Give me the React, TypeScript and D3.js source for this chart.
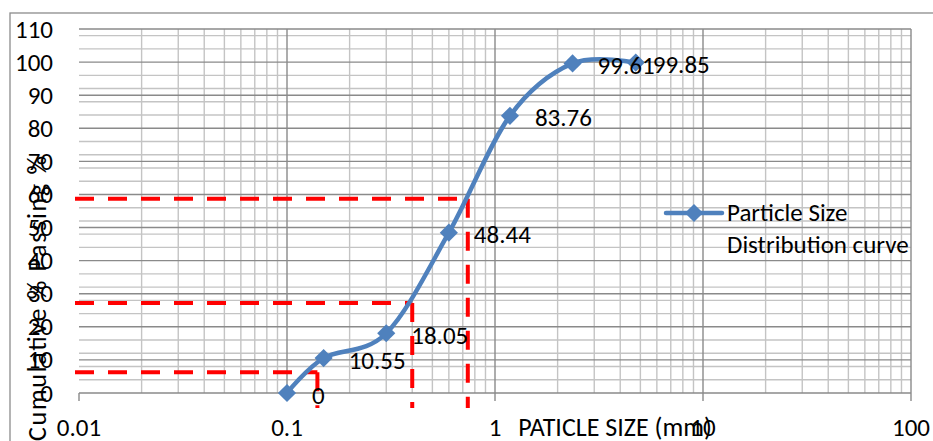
import React from 'react';
import * as d3 from 'd3';

const WIDTH = 933;
const HEIGHT = 441;
const PLOT = { left: 79, right: 911, top: 29, bottom: 393 };
const FONT = 'Carlito, Calibri, Lato, sans-serif';
const FS = 25;
const BLUE = '#4F81BD';

// sieve sizes (mm) and cumulative % passing
const sizes = [0.1, 0.15, 0.3, 0.6, 1.18, 2.36, 4.75];
const passing = [0, 10.55, 18.05, 48.44, 83.76, 99.61, 99.85];
const passingLabels = ['0', '10.55', '18.05', '48.44', '83.76', '99.61', '99.85'];

// red dashed reading lines (D10, D30, D60 style)
const guideSizes = [0.14, 0.4, 0.74];
const guidePassing = [6.3, 27.2, 58.7];

const xTicks = [0.01, 0.1, 1, 10, 100];
const xTickLabels = ['0.01', '0.1', '1', '10', '100'];
const yTicks = [0, 10, 20, 30, 40, 50, 60, 70, 80, 90, 100, 110];

export default function App() {
  const x = d3.scaleLog().domain([0.01, 100]).range([PLOT.left, PLOT.right]);
  const y = d3.scaleLinear().domain([0, 110]).range([PLOT.bottom, PLOT.top]);

  // minor log grid: 2..9 in each decade
  const xMinor: number[] = [];
  for (let e = -2; e < 2; e++) {
    for (let m = 2; m <= 9; m++) xMinor.push(m * Math.pow(10, e));
  }
  const yMinor = d3.range(0, 111, 4).filter((v) => v % 10 !== 0);

  const pts: [number, number][] = sizes.map((s, i) => [x(s), y(passing[i])]);
  const line = d3.line().curve(d3.curveCatmullRom.alpha(0))(pts) || '';
  const diamond = d3.symbol(d3.symbolSquare, 165)() || '';

  return (
    <svg
      width={WIDTH}
      height={HEIGHT}
      style={{ position: 'absolute', left: 0, top: 0, background: '#fff' }}
      fontFamily={FONT}
    >
      <rect x={10} y={13} width={WIDTH + 20} height={HEIGHT + 20} fill="#fff" stroke="#8c8c8c" strokeWidth={1.3} />

      {/* minor grid */}
      {yMinor.map((v) => (
        <line key={'ym' + v} x1={PLOT.left} x2={PLOT.right} y1={y(v)} y2={y(v)} stroke="#c4c4c4" strokeWidth={1.4} />
      ))}
      {xMinor.map((v) => (
        <line key={'xm' + v} x1={x(v)} x2={x(v)} y1={PLOT.top} y2={PLOT.bottom} stroke="#c4c4c4" strokeWidth={1.4} />
      ))}
      {/* major grid */}
      {yTicks.map((v) => (
        <line key={'yM' + v} x1={PLOT.left} x2={PLOT.right} y1={y(v)} y2={y(v)} stroke="#8a8a8a" strokeWidth={1.4} />
      ))}
      {xTicks.slice(1).map((v) => (
        <line key={'xM' + v} x1={x(v)} x2={x(v)} y1={PLOT.top} y2={PLOT.bottom} stroke="#8a8a8a" strokeWidth={1.4} />
      ))}
      {xTicks.map((v) => (
        <line key={'xt' + v} x1={x(v)} x2={x(v)} y1={PLOT.bottom} y2={PLOT.bottom + 8} stroke="#8a8a8a" strokeWidth={1.4} />
      ))}

      {/* guide lines */}
      {guideSizes.map((s, i) => (
        <g key={'g' + i} stroke="#ff0000" strokeWidth={4} strokeDasharray="19 14" fill="none">
          <line x1={PLOT.left - 4} x2={x(s)} y1={y(guidePassing[i])} y2={y(guidePassing[i])} />
          <line x1={x(s)} x2={x(s)} y1={y(guidePassing[i])} y2={y(0) + 15} />
        </g>
      ))}

      {/* curve */}
      <path d={line} fill="none" stroke={BLUE} strokeWidth={4.5} strokeLinejoin="round" strokeLinecap="round" />
      {pts.map(([px, py], i) => (
        <path key={'m' + i} d={diamond} transform={`translate(${px},${py}) rotate(45)`} fill={BLUE} />
      ))}
      {pts.map(([px, py], i) => (
        <text
          key={'l' + i}
          x={px + (i === pts.length - 1 ? 17 : 25)}
          y={py + 2}
          dominantBaseline="central"
          fontSize={FS}
          fill="#000"
        >
          {passingLabels[i]}
        </text>
      ))}

      {/* axes labels */}
      {yTicks.map((v) => (
        <text key={'yl' + v} x={53} y={y(v)} textAnchor="end" dominantBaseline="central" fontSize={FS} fill="#000">
          {v}
        </text>
      ))}
      {xTicks.map((v, i) => (
        <text key={'xl' + v} x={x(v)} y={436} textAnchor="middle" fontSize={FS} fill="#000">
          {xTickLabels[i]}
        </text>
      ))}
      <text x={615} y={436} textAnchor="middle" fontSize={26} fill="#000">
        PATICLE SIZE (mm)
      </text>
      <text
        transform="translate(46,441) rotate(-90)"
        x={0}
        y={0}
        fontSize={26}
        fill="#000"
        textLength={285}
        lengthAdjust="spacing"
      >
        Cumulative % Passing %
      </text>

      {/* legend */}
      <line x1={666} x2={722} y1={213} y2={213} stroke={BLUE} strokeWidth={4.5} strokeLinecap="round" />
      <path d={diamond} transform="translate(694,213) rotate(45)" fill={BLUE} />
      <text x={727} y={221} fontSize={FS} fill="#000">Particle Size</text>
      <text x={727} y={253} fontSize={FS} fill="#000">Distribution curve</text>
    </svg>
  );
}
